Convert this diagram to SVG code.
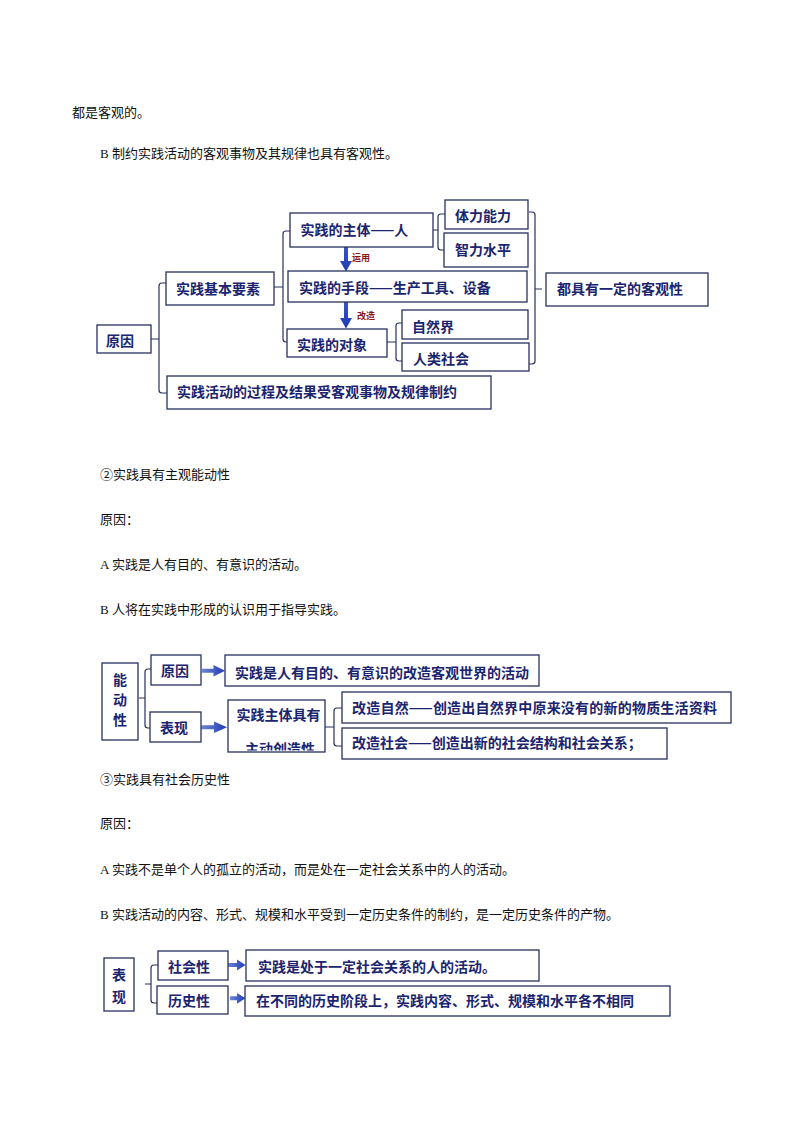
<svg xmlns="http://www.w3.org/2000/svg" width="794" height="1123" viewBox="0 0 794 1123">
<style>
.bg{fill:#fff}
.body{font-family:"Liberation Serif","Noto Sans CJK SC",serif;font-size:13px;fill:#111}
.box{fill:#fff;stroke:#27305e;stroke-width:1.3}
.t{font-family:"Noto Sans CJK SC",sans-serif;font-size:14px;font-weight:bold;fill:#1b246e}
.tc{font-family:"Noto Sans CJK SC",sans-serif;font-size:14px;font-weight:bold;fill:#1b246e;text-anchor:middle}
.sm{font-family:"Noto Sans CJK SC",sans-serif;font-size:9px;font-weight:bold;fill:#8b1414}
.br{fill:none;stroke:#27305e;stroke-width:1.2}
.arr{fill:url(#ag)}
.arrv{fill:url(#agv)}
</style>
<defs>
<linearGradient id="ag" x1="0" y1="0" x2="1" y2="0">
<stop offset="0" stop-color="#6d86d6"/>
<stop offset="1" stop-color="#1f3ab5"/>
</linearGradient>
<linearGradient id="agv" x1="0" y1="0" x2="0" y2="1">
<stop offset="0" stop-color="#3a55c4"/>
<stop offset="1" stop-color="#1f3ab5"/>
</linearGradient>
<clipPath id="clipZT"><rect x="228" y="700" width="97" height="50.5"/></clipPath>
</defs>
<rect class="bg" x="0" y="0" width="794" height="1123"/>

<g id="text-body">
<text class="body" x="72" y="117">都是客观的。</text>
<text class="body" x="100" y="158">B 制约实践活动的客观事物及其规律也具有客观性。</text>
<text class="body" x="100" y="479">②实践具有主观能动性</text>
<text class="body" x="100" y="524">原因：</text>
<text class="body" x="100" y="569">A 实践是人有目的、有意识的活动。</text>
<text class="body" x="100" y="614">B 人将在实践中形成的认识用于指导实践。</text>
<text class="body" x="100" y="784">③实践具有社会历史性</text>
<text class="body" x="100" y="828">原因：</text>
<text class="body" x="100" y="874">A 实践不是单个人的孤立的活动，而是处在一定社会关系中的人的活动。</text>
<text class="body" x="100" y="919">B 实践活动的内容、形式、规模和水平受到一定历史条件的制约，是一定历史条件的产物。</text>
</g>

<g id="connectors">
<!-- diagram 1 -->
<path class="br" d="M167,283 H162 Q159,283 159,286 V390 Q159,393 162,393 H167 M151,339 H159"/>
<path class="br" d="M290,231 H286 Q283,231 283,234 V339 Q283,342 286,342 H287 M274,287 H283"/>
<path class="br" d="M445,214 H441 Q438,214 438,217 V247 Q438,250 441,250 H444 M433,230 H438"/>
<path class="br" d="M402,323 H399 Q396,323 396,326 V358 Q396,361 399,361 H402 M387,342 H396"/>
<path class="br" d="M529,212 H532 Q535,212 535,215 V361 Q535,364 532,364 H529 M535,289 H542"/>
<polygon class="arrv" points="344,247 348,247 348,261 352,261 346,271.5 340,261 344,261"/>
<polygon class="arrv" points="344,302 348,302 348,318 352,318 346,328.5 340,318 344,318"/>
<text class="sm" x="352" y="261">运用</text>
<text class="sm" x="357" y="319">改造</text>
<!-- diagram 2 -->
<path class="br" d="M151,669 H148 Q145,669 145,672 V725 Q145,728 148,728 H150 M139,698 H145"/>
<path class="br" d="M342,708 H337 Q334,708 334,711 V743 Q334,746 337,746 H342 M325,727 H334"/>
<polygon class="arr" points="202,668.7 213.5,668.7 213.5,665 225,670.7 213.5,676.5 213.5,672.7 202,672.7"/>
<polygon class="arr" points="201,725.3 214,725.3 214,721.5 227,727.3 214,733 214,729.3 201,729.3"/>
<!-- diagram 3 -->
<path class="br" d="M158,965 H154 Q151,965 151,968 V1000 Q151,1003 154,1003 H157 M145,984 H151"/>
<polygon class="arr" points="228,963 237,963 237,959.5 245.5,965 237,970.5 237,967 228,967"/>
<polygon class="arr" points="230,996.3 237,996.3 237,993 245.5,998.3 237,1003.7 237,1000.3 230,1000.3"/>
</g>

<g id="n-yuanyin1"><rect class="box" x="97" y="325" width="54" height="28"/><text class="t" x="106" y="345.5">原因</text></g>
<g id="n-yaosu"><rect class="box" x="166" y="272" width="108" height="33"/><text class="t" x="176" y="293.5">实践基本要素</text></g>
<g id="n-guocheng"><rect class="box" x="167" y="376" width="324" height="33"/><text class="t" x="177" y="397">实践活动的过程及结果受客观事物及规律制约</text></g>
<g id="n-zhuti"><rect class="box" x="290" y="213" width="143" height="34"/><text class="t" x="300.5" y="235">实践的主体——人</text></g>
<g id="n-shouduan"><rect class="box" x="288" y="271" width="239" height="31"/><text class="t" x="299" y="292.5">实践的手段——生产工具、设备</text></g>
<g id="n-duixiang"><rect class="box" x="287" y="329" width="100" height="28"/><text class="t" x="297" y="349.5">实践的对象</text></g>
<g id="n-tili"><rect class="box" x="445" y="200" width="83" height="29"/><text class="t" x="455" y="221">体力能力</text></g>
<g id="n-zhili"><rect class="box" x="444" y="233" width="84" height="34"/><text class="t" x="455" y="254.5">智力水平</text></g>
<g id="n-ziranjie"><rect class="box" x="402" y="310" width="126" height="29"/><text class="t" x="412" y="331.5">自然界</text></g>
<g id="n-renlei"><rect class="box" x="402" y="343" width="127" height="28"/><text class="t" x="413" y="364">人类社会</text></g>
<g id="n-keguan"><rect class="box" x="546" y="273" width="162" height="33"/><text class="t" x="557" y="294">都具有一定的客观性</text></g>

<g id="n-nengdong"><rect class="box" x="102" y="663" width="36" height="77"/><text class="tc" x="120" y="685">能</text><text class="tc" x="120" y="705">动</text><text class="tc" x="120" y="725">性</text></g>
<g id="n-yuanyin2"><rect class="box" x="151" y="655" width="50" height="30"/><text class="t" x="161" y="676">原因</text></g>
<g id="n-biaoxian2"><rect class="box" x="150" y="712" width="51" height="30"/><text class="t" x="160" y="733">表现</text></g>
<g id="n-mudi"><rect class="box" x="225" y="655" width="314" height="31"/><text class="t" x="235" y="677.5">实践是人有目的、有意识的改造客观世界的活动</text></g>
<g id="n-zhutijuyou"><rect class="box" x="228" y="700" width="97" height="52"/><text class="t" x="236.5" y="720">实践主体具有</text><text class="t" x="245" y="754" clip-path="url(#clipZT)">主动创造性</text></g>
<g id="n-gaiziran"><rect class="box" x="342" y="692" width="389" height="31"/><text class="t" x="352" y="712.5" textLength="365">改造自然——创造出自然界中原来没有的新的物质生活资料</text></g>
<g id="n-gaishehui"><rect class="box" x="342" y="728" width="325" height="31"/><text class="t" x="352" y="747.5">改造社会——创造出新的社会结构和社会关系；</text></g>

<g id="n-biaoxian3"><rect class="box" x="104" y="958" width="30" height="53"/><text class="tc" x="119" y="979.5">表</text><text class="tc" x="119" y="1001.5">现</text></g>
<g id="n-shehuixing"><rect class="box" x="158" y="951" width="70" height="29"/><text class="t" x="168" y="972">社会性</text></g>
<g id="n-lishixing"><rect class="box" x="157" y="986" width="71" height="28"/><text class="t" x="168" y="1006">历史性</text></g>
<g id="n-chuyu"><rect class="box" x="246" y="950" width="293" height="31"/><text class="t" x="258" y="972">实践是处于一定社会关系的人的活动。</text></g>
<g id="n-butong"><rect class="box" x="245" y="986" width="425" height="30"/><text class="t" x="256" y="1006">在不同的历史阶段上，实践内容、形式、规模和水平各不相同</text></g>
</svg>
